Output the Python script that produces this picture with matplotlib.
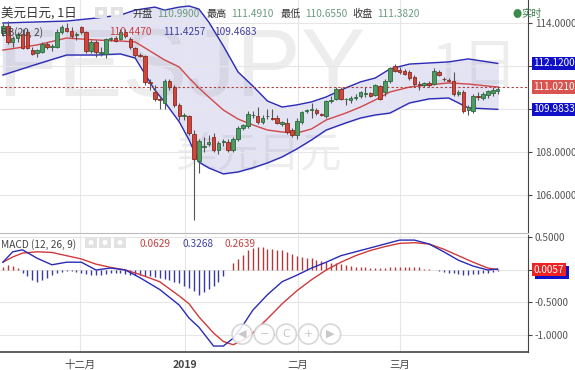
import numpy as np
import matplotlib
matplotlib.use("Agg")
from matplotlib import pyplot as plt
from matplotlib.patches import Circle, Rectangle

plt.rcParams['font.family'] = ['Noto Sans CJK SC', 'DejaVu Sans']

# daily candles, USD/JPY
opens = [113.55, 113.85, 113.1, 113.3, 113.5, 113.6, 112.75, 112.6, 112.65, 113.0,
         112.9, 112.9, 113.6, 113.77, 113.65, 113.45, 113.8, 113.6, 112.7, 113.1,
         112.6, 112.55, 113.25, 113.3, 113.25, 113.6, 113.25, 112.85, 112.5, 112.45,
         111.25, 110.8, 110.45, 110.3, 111.3, 111.0, 110.2, 109.65, 109.65, 108.85,
         107.6, 108.25, 108.35, 108.7, 108.1, 108.45, 108.45, 108.1, 108.6, 109.1,
         109.2, 109.7, 109.65, 109.4, 109.65, 109.6, 109.6, 109.3, 109.35, 109.0,
         108.8, 109.4, 109.9, 109.95, 109.95, 109.75, 109.65, 110.35, 110.45, 110.95,
         110.45, 110.4, 110.5, 110.6, 110.7, 110.75, 110.65, 111.05, 110.8, 111.3,
         112.0, 111.8, 111.75, 111.7, 111.5, 111.15, 111.1, 111.2, 111.15, 111.7,
         111.4, 111.35, 111.3, 110.7, 110.8, 109.95, 109.9, 110.6, 110.5, 110.65,
         110.75, 110.85]
highs = [114.0, 114.1, 113.4, 113.6, 113.7, 113.7, 112.9, 112.8, 113.1, 113.1,
         113.0, 113.7, 113.9, 114.0, 113.8, 113.6, 113.85, 113.65, 113.2, 113.2,
         112.9, 113.3, 113.35, 113.4, 113.7, 113.7, 113.35, 112.9, 112.6, 112.5,
         111.4, 111.1, 110.6, 111.4, 111.4, 111.1, 110.3, 109.8, 109.7, 109.0,
         108.6, 108.7, 108.8, 108.9, 108.5, 108.6, 108.6, 108.7, 109.2, 109.3,
         109.9, 109.9, 110.1, 109.7, 110.0, 110.0, 109.7, 109.45, 109.6, 109.1,
         109.6, 109.9, 110.0, 110.3, 110.05, 109.8, 110.4, 110.6, 111.0, 111.0,
         110.5, 110.6, 110.7, 110.85, 111.0, 110.8, 111.15, 111.1, 111.4, 111.95,
         112.1, 111.95, 111.85, 111.8, 111.6, 111.3, 111.25, 111.3, 111.9, 111.8,
         111.5, 111.45, 111.7, 110.9, 110.9, 110.2, 110.7, 110.8, 110.8, 110.9,
         111.0, 111.05]
lows = [113.4, 113.0, 112.9, 113.1, 112.8, 112.8, 112.5, 112.4, 112.6, 112.8,
        112.7, 112.85, 113.5, 113.6, 113.3, 113.2, 113.5, 112.6, 112.6, 112.4,
        112.45, 112.35, 113.15, 113.1, 113.2, 113.3, 112.8, 112.4, 112.4, 111.1,
        110.9, 110.35, 110.0, 110.0, 110.9, 110.1, 109.5, 109.5, 108.8, 104.85,
        107.0, 108.0, 108.3, 108.0, 107.9, 108.3, 108.0, 108.0, 108.5, 109.0,
        109.1, 109.6, 109.3, 109.3, 109.55, 109.5, 109.3, 109.2, 108.85, 108.7,
        108.6, 109.3, 109.8, 109.6, 109.7, 109.65, 109.6, 110.3, 110.4, 110.4,
        110.2, 110.3, 110.4, 110.5, 110.55, 110.55, 110.6, 110.4, 110.6, 111.2,
        111.7, 111.65, 111.6, 111.35, 111.05, 110.9, 111.0, 111.0, 111.1, 111.55,
        111.3, 111.25, 110.6, 110.6, 109.8, 109.7, 109.8, 110.4, 110.4, 110.5,
        110.6, 110.7]
closes = [113.85, 113.1, 113.3, 113.5, 112.85, 112.85, 112.55, 112.75, 113.0, 112.9,
          112.92, 113.6, 113.8, 113.65, 113.4, 113.5, 113.6, 112.7, 113.1, 112.65,
          112.65, 113.25, 113.27, 113.15, 113.6, 113.4, 112.9, 112.5, 112.45, 111.25,
          111.2, 110.45, 110.4, 111.3, 111.0, 110.2, 109.65, 109.7, 108.9, 107.65,
          108.5, 108.3, 108.45, 108.1, 108.4, 108.5, 108.1, 108.6, 109.1, 109.25,
          109.75, 109.72, 109.4, 109.6, 109.68, 109.55, 109.35, 109.4, 108.95, 108.8,
          109.45, 109.85, 109.95, 109.95, 109.8, 109.72, 110.35, 110.42, 110.95, 110.45,
          110.45, 110.5, 110.55, 110.8, 110.72, 110.6, 111.1, 110.45, 111.3, 111.9,
          111.75, 111.72, 111.65, 111.45, 111.15, 111.1, 111.2, 111.1, 111.75, 111.6,
          111.38, 111.32, 110.7, 110.8, 109.9, 110.1, 110.6, 110.55, 110.7, 110.85,
          110.9, 110.95]

# Bollinger bands (20, 2), sampled along the candles
bb_idx = [0, 7, 13, 19, 24, 27, 31, 33, 36, 38, 40, 42, 45, 48, 51, 54, 57, 60, 63,
          66, 70, 73, 76, 79, 83, 87, 91, 95, 101]
bb_upper = [114.0, 114.05, 114.09, 114.23, 114.37, 114.6, 114.74, 114.6, 114.74, 114.79,
            114.65, 114.05, 112.93, 111.72, 111.07, 110.37, 110.09, 110.19, 110.33,
            110.56, 110.98, 111.26, 111.44, 111.86, 112.09, 112.14, 112.19, 112.33, 112.12]
bb_mid = [112.74, 112.98, 113.3, 113.21, 113.16, 113.12, 112.56, 112.28, 111.95, 111.44,
          110.98, 110.56, 109.95, 109.53, 109.26, 109.02, 108.93, 108.88, 109.07,
          109.49, 109.81, 110.09, 110.42, 110.79, 111.02, 111.12, 111.21, 111.16, 111.021]
bb_lower = [111.58, 112.09, 112.51, 112.51, 112.56, 112.37, 110.88, 110.33, 109.4, 108.56,
            107.53, 107.26, 106.98, 107.07, 107.26, 107.49, 107.77, 108.14, 108.56,
            109.02, 109.35, 109.58, 109.72, 109.81, 110.28, 110.47, 110.51, 110.05, 109.9833]

# MACD (12, 26, 9)
macd_idx = [0, 2, 4, 7, 10, 13, 16, 19, 22, 25, 28, 32, 36, 38, 40, 43, 45, 47, 49,
            51, 54, 57, 60, 63, 66, 69, 72, 75, 78, 81, 84, 87, 90, 93, 96, 99, 101]
dif = [0.12, 0.28, 0.31, 0.18, 0.08, 0.12, 0.12, 0.0, 0.03, 0.0, -0.12, -0.3, -0.54,
       -0.74, -0.88, -1.17, -1.17, -1.05, -0.85, -0.62, -0.38, -0.18, -0.08, 0.03, 0.12,
       0.22, 0.28, 0.34, 0.4, 0.46, 0.46, 0.4, 0.28, 0.15, 0.06, 0.0, 0.015]
dea = [0.12, 0.2, 0.26, 0.28, 0.27, 0.22, 0.17, 0.09, 0.04, 0.0, -0.07, -0.18, -0.4,
       -0.52, -0.72, -0.97, -1.1, -1.15, -1.08, -0.97, -0.75, -0.52, -0.32, -0.15, 0.0,
       0.12, 0.22, 0.3, 0.36, 0.41, 0.42, 0.4, 0.32, 0.22, 0.12, 0.03, 0.0057]
hist = [0.05, 0.08, 0.06, 0.03, -0.05, -0.1, -0.15, -0.18, -0.16, -0.12,
        -0.08, -0.05, -0.03, -0.02, -0.02, -0.03, -0.04, -0.06, -0.07, -0.08,
        -0.07, -0.06, -0.05, -0.04, -0.05, -0.06, -0.07, -0.08, -0.08, -0.09,
        -0.1, -0.11, -0.12, -0.14, -0.16, -0.18, -0.2, -0.24, -0.28, -0.33,
        -0.38, -0.34, -0.3, -0.25, -0.18, -0.1, 0.0, 0.1, 0.17, 0.23,
        0.3, 0.34, 0.36, 0.35, 0.33, 0.32, 0.31, 0.3, 0.27, 0.25,
        0.22, 0.2, 0.19, 0.18, 0.16, 0.14, 0.12, 0.11, 0.1, 0.09,
        0.08, 0.06, 0.05, 0.04, 0.04, 0.03, 0.03, 0.03, 0.03, 0.04,
        0.05, 0.05, 0.05, 0.05, 0.05, 0.04, 0.02, 0.01, 0.0, -0.02,
        -0.03, -0.04, -0.05, -0.06, -0.07, -0.07, -0.06, -0.06, -0.05, -0.04,
        -0.03, -0.02]

month_labels = ['十二月', '2019', '二月', '三月']
month_pos = [15.7, 37.2, 60.2, 81.0]
price_ticks = [106, 108, 110, 112, 114]
macd_ticks = [-1.0, -0.5, 0.0, 0.5]
nav_symbols = ['◀', '−', 'C', '+', '▶']

RED = '#d2453a'
GREEN = '#4e9a62'
BLUE = '#2b2bb5'
GRID = '#e6e6e6'
AXC = '#444444'

fig = plt.figure(figsize=(5.75, 3.70), dpi=100)
ax = fig.add_axes([0, 0.3703, 0.9183, 0.6297])
ax2 = fig.add_axes([0, 0.0486, 0.9183, 0.3162], sharex=ax)

n = len(closes)
x = np.arange(n)
o = np.array(opens)
c = np.array(closes)

# bands
ax.fill_between(bb_idx, bb_lower, bb_upper, color='#e3e3f4', zorder=1)

# watermark, drawn over the band fill
wm = dict(color='#9a9a9a', alpha=0.17, zorder=1.5)
ax.text(-1.0, 111.75, 'FESJPY', fontsize=70, ha='left', va='center',
        family=['Liberation Sans'], **wm)
ax.text(87.5, 111.9, '1日', fontsize=40, ha='left', va='center', **wm)
ax.text(35.2, 107.85, '美元日元', fontsize=30, ha='left', va='center', **wm)

ax.plot(bb_idx, bb_upper, color=BLUE, lw=1.0, zorder=2)
ax.plot(bb_idx, bb_lower, color=BLUE, lw=1.0, zorder=2)
ax.plot(bb_idx, bb_mid, color='#d04848', lw=1.0, zorder=2)
ax.axhline(bb_mid[-1], color='#b04040', lw=0.8, ls=(0, (2, 2)), zorder=2)

# candles
up = c >= o
cols = np.where(up, GREEN, RED)
edges = np.where(up, '#2d6b3f', '#8a2a22')
ax.vlines(x, lows, highs, color='#555555', lw=0.8, zorder=3)
body = np.maximum(np.abs(c - o), 0.03)
ax.bar(x, body, bottom=np.minimum(o, c), width=0.72, color=cols, edgecolor=edges,
       linewidth=0.6, zorder=4)

ax.set_xlim(-0.6, 107.2)
ax.set_ylim(104.23, 115.07)
ax.set_yticks(price_ticks)
ax.set_yticklabels([f'{t:.4f}' for t in price_ticks])
ax.yaxis.tick_right()
ax.tick_params(axis='y', colors=AXC, labelsize=7.2, length=3, pad=2, labelcolor='#555555')
ax.tick_params(axis='x', length=0, labelbottom=False)
ax.grid(True, color=GRID, lw=0.8)
ax.set_xticks(month_pos + [102.2])
for s in ['left', 'top']:
    ax.spines[s].set_visible(False)
ax.spines['right'].set_color(AXC)
ax.spines['bottom'].set_color('#bbbbbb')

# price boxes on the axis
def tag(axis, y, txt, fc, dy=0):
    axis.annotate(txt, xy=(1.0, y), xycoords=('axes fraction', 'data'), xytext=(4, dy),
                  textcoords='offset points', ha='left', va='center', fontsize=7.2,
                  color='white', annotation_clip=False,
                  bbox=dict(boxstyle='square,pad=0.18', fc=fc, ec='none'))

tag(ax, bb_upper[-1], f'{bb_upper[-1]:.4f}', '#1010c8')
tag(ax, bb_mid[-1], f'{bb_mid[-1]:.4f}', '#d9534f')
tag(ax, bb_lower[-1], f'{bb_lower[-1]:.4f}', '#1010c8')

# MACD panel
hcol = np.where(np.array(hist) >= 0, '#b33a3a', '#3a3aa0')
ax2.vlines(x, 0, hist, color=hcol, lw=1.0, zorder=2)
ax2.plot(macd_idx, dea, color='#d03a3a', lw=1.0, zorder=3)
ax2.plot(macd_idx, dif, color=BLUE, lw=1.0, zorder=3)
ax2.set_ylim(-1.262, 0.538)
ax2.set_yticks(macd_ticks)
ax2.set_yticklabels(['-1.0000', '-0.5000', '', '0.5000'])
ax2.yaxis.tick_right()
ax2.tick_params(axis='y', colors=AXC, labelsize=7.2, length=3, pad=2, labelcolor='#555555')
ax2.set_xticks(month_pos)
ax2.set_xticklabels(month_labels)
ax2.tick_params(axis='x', length=0, labelsize=7.5, labelcolor='#444444', pad=6)
for lab in ax2.get_xticklabels():
    if lab.get_text() == '2019':
        lab.set_fontweight('bold')
ax2.grid(True, color=GRID, lw=0.8)
for s in ['left', 'top']:
    ax2.spines[s].set_visible(False)
ax2.spines['right'].set_color(AXC)
ax2.spines['bottom'].set_color(AXC)
ax2.spines['bottom'].set_linewidth(1.2)
ax2.annotate('0.0057', xy=(1.0, dea[-1]), xycoords=('axes fraction', 'data'),
             xytext=(6, -2), textcoords='offset points', ha='left', va='center',
             fontsize=7.2, color='#1010c8', annotation_clip=False,
             bbox=dict(boxstyle='square,pad=0.18', fc='#1010c8', ec='none'))
tag(ax2, dea[-1], f'{dea[-1]:.4f}', '#ee2222')

# navigation buttons
for k, sym in enumerate(nav_symbols):
    cx, cy = 0.421 + k * 0.0385, 0.097
    fig.patches.append(Circle((cx * 575, cy * 370), 10, transform=None,
                              fc='white', ec='#d0d0d0', lw=1.2, alpha=0.85, zorder=5))
    fig.text(cx, cy, sym, ha='center', va='center', fontsize=8, color='#c8c8c8',
             family=['DejaVu Sans'], zorder=6)

# small gray icon buttons next to the legends
for bx, by in [(95, 352), (111, 352), (85, 122), (99, 122), (114, 122)]:
    fig.patches.append(Rectangle((bx, by), 12, 11, transform=None, fc='#e2e2e2',
                                 ec='none', zorder=5))
    fig.patches.append(Circle((bx + 6, by + 5.5), 2.5, transform=None, fc='white',
                              ec='none', zorder=6))

# header texts
fig.text(0.002, 0.962, '美元日元, 1日', fontsize=9, color='#333333', va='center')
hdr = [('开盘', 0.231), ('110.9900', 0.274), ('最高', 0.359), ('111.4910', 0.402),
       ('最低', 0.487), ('110.6550', 0.531), ('收盘', 0.612), ('111.3820', 0.656)]
for i, (t, xx) in enumerate(hdr):
    fig.text(xx, 0.962, t, fontsize=7.3, va='center',
             color='#333333' if i % 2 == 0 else '#6a9a80')
fig.text(0.891, 0.962, '●', fontsize=6.5, va='center', color='#3a8a4a')
fig.text(0.906, 0.962, '实时', fontsize=7.3, va='center', color='#3a7a4a')
fig.text(0.002, 0.913, 'BB(20, 2)', fontsize=7.3, va='center', color='#444444')
fig.text(0.19, 0.913, '110.4470', fontsize=7.3, va='center', color='#c84040')
fig.text(0.283, 0.913, '111.4257', fontsize=7.3, va='center', color='#4040a0')
fig.text(0.373, 0.913, '109.4683', fontsize=7.3, va='center', color='#4040a0')
fig.text(0.002, 0.340, 'MACD (12, 26, 9)', fontsize=7.3, va='center', color='#444444')
fig.text(0.243, 0.340, '0.0629', fontsize=7.3, va='center', color='#c84040')
fig.text(0.318, 0.340, '0.3268', fontsize=7.3, va='center', color='#4040a0')
fig.text(0.391, 0.340, '0.2639', fontsize=7.3, va='center', color='#c84040')

fig.savefig('out.png', dpi=100, facecolor='white')
